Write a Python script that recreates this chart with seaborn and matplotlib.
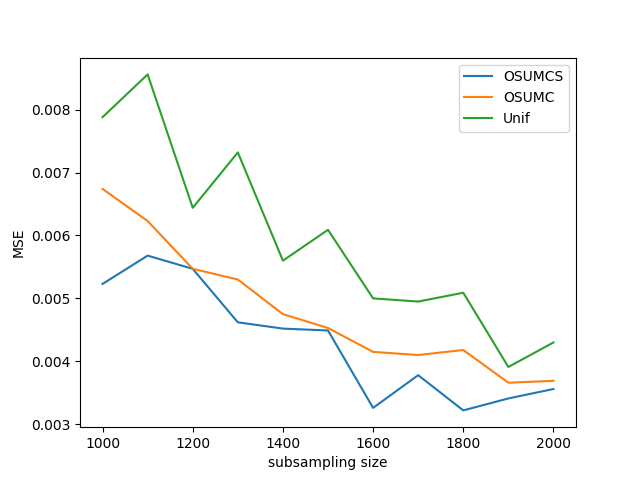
import numpy as np
import matplotlib
matplotlib.use("Agg")
import matplotlib.pyplot as plt
import seaborn as sns

# subsampling sizes
sizes = [1000, 1100, 1200, 1300, 1400, 1500, 1600, 1700, 1800, 1900, 2000]

# MSE per method
mse_osumcs = [0.00523, 0.00568, 0.00547, 0.00462, 0.00452, 0.00449,
              0.00326, 0.00378, 0.00322, 0.00341, 0.00356]
mse_osumc = [0.00674, 0.00623, 0.00547, 0.00530, 0.00475, 0.00453,
             0.00415, 0.00410, 0.00418, 0.00366, 0.00369]
mse_unif = [0.00788, 0.00856, 0.00644, 0.00732, 0.00560, 0.00609,
            0.00500, 0.00495, 0.00509, 0.00391, 0.00430]

series = {"OSUMCS": mse_osumcs, "OSUMC": mse_osumc, "Unif": mse_unif}
colors = ["#1f77b4", "#ff7f0e", "#2ca02c"]

fig, ax = plt.subplots(figsize=(6.4, 4.8), dpi=100)

for (name, vals), c in zip(series.items(), colors):
    sns.lineplot(x=sizes, y=vals, label=name, color=c, linewidth=1.5, ax=ax)

ax.set_xlabel("subsampling size")
ax.set_ylabel("MSE")
ax.legend(loc="upper right")

plt.savefig("out.png", dpi=100)
